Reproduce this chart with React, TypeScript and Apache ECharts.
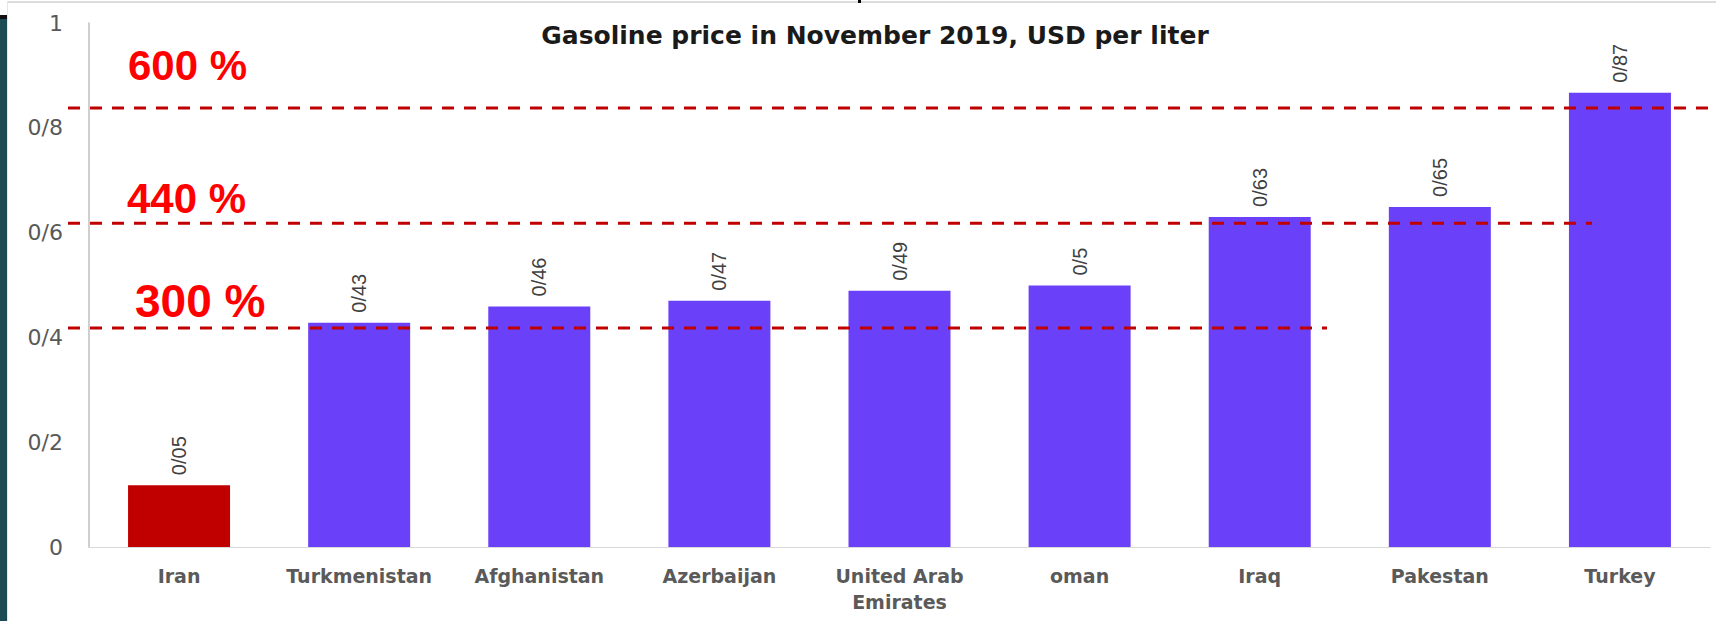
import React, { useEffect, useRef } from "react";
import * as echarts from "echarts";

const categories = [
  "Iran",
  "Turkmenistan",
  "Afghanistan",
  "Azerbaijan",
  "United Arab\nEmirates",
  "oman",
  "Iraq",
  "Pakestan",
  "Turkey",
];
// bar heights as drawn in the picture
const barHeights = [0.118, 0.428, 0.459, 0.47, 0.489, 0.499, 0.63, 0.649, 0.867];
// value labels as printed above the bars
const valueLabels = ["0/05", "0/43", "0/46", "0/47", "0/49", "0/5", "0/63", "0/65", "0/87"];
const yTickLabels = ["0", "0/2", "0/4", "0/6", "0/8", "1"];
const thresholdLevels = [0.838, 0.618, 0.418];
const thresholdLabels = ["600 %", "440 %", "300 %"];

const highlightColor = "#c00000";
const barColor = "#6a40f8";

// layout of annotation lines (pixels)
const thresholdLayout = [
  { x1: 68, x2: 1716, labelX: 128, labelDy: -42, fontSize: 42 },
  { x1: 68, x2: 1592, labelX: 127, labelDy: -25, fontSize: 42 },
  { x1: 68, x2: 1327, labelX: 135, labelDy: -27, fontSize: 46 },
];

export default function App() {
  const ref = useRef<HTMLDivElement>(null);
  useEffect(() => {
    if (!ref.current) return;
    const chart = echarts.init(ref.current, null, { renderer: "svg" });
    const frame: any[] = [
      { type: "rect", shape: { x: 7, y: 1, width: 1709, height: 2 }, style: { fill: "#dcdcdc" }, silent: true },
      { type: "rect", shape: { x: 7, y: 1, width: 1, height: 620 }, style: { fill: "#e6e6e6" }, silent: true },
      { type: "rect", shape: { x: 0, y: 19, width: 7, height: 602 }, style: { fill: "#1d4b53" }, silent: true },
      { type: "rect", shape: { x: 0, y: 15, width: 7, height: 4 }, style: { fill: "#111111" }, silent: true },
      { type: "rect", shape: { x: 858, y: 0, width: 3, height: 3 }, style: { fill: "#000000" }, silent: true },
    ];
    const option: any = {
      animation: false,
      backgroundColor: "#ffffff",
      title: {
        text: "Gasoline price in November 2019, USD per liter",
        left: 870,
        textAlign: "center",
        top: 18,
        textStyle: {
          fontFamily: "DejaVu Sans",
          fontWeight: "bold",
          fontSize: 25,
          color: "#1a1a1a",
        },
      },
      grid: { left: 89, right: 6, top: 23, bottom: 74, containLabel: false },
      xAxis: {
        type: "category",
        data: categories,
        axisLine: { show: true, lineStyle: { color: "#d9d9d9", width: 1 } },
        axisTick: { show: false },
        axisLabel: {
          interval: 0,
          margin: 16,
          fontFamily: "DejaVu Sans",
          fontWeight: "bold",
          fontSize: 19,
          lineHeight: 26,
          color: "#5a5a5a",
        },
      },
      yAxis: {
        type: "value",
        min: 0,
        max: 1,
        interval: 0.2,
        splitLine: { show: false },
        axisTick: { show: false },
        axisLine: { show: true, lineStyle: { color: "#bfbfbf", width: 1.5 } },
        axisLabel: {
          margin: 26,
          fontFamily: "DejaVu Sans",
          fontSize: 22,
          color: "#595959",
          formatter: (v: number) => yTickLabels[Math.round(v / 0.2)] ?? "",
        },
      },
      series: [
        {
          type: "bar",
          barWidth: 102,
          data: barHeights.map((v, i) => ({
            value: v,
            itemStyle: { color: i === 0 ? highlightColor : barColor },
          })),
          label: {
            show: true,
            position: "top",
            rotate: 90,
            align: "left",
            verticalAlign: "middle",
            distance: 10,
            fontFamily: "Liberation Sans",
            fontSize: 20,
            color: "#404040",
            formatter: (p: any) => valueLabels[p.dataIndex],
          },
        },
      ],
      graphic: frame,
    };
    chart.setOption(option);

    const extra: any[] = [];
    thresholdLevels.forEach((lvl, i) => {
      const y = chart.convertToPixel({ yAxisIndex: 0 } as any, lvl) as number;
      const L = thresholdLayout[i];
      extra.push({
        type: "line",
        z: 100,
        silent: true,
        shape: { x1: L.x1, y1: y, x2: L.x2, y2: y },
        style: { stroke: highlightColor, lineWidth: 3, lineDash: [12, 10] },
      });
      extra.push({
        type: "text",
        z: 100,
        silent: true,
        x: L.labelX,
        y: y + L.labelDy,
        style: {
          text: thresholdLabels[i],
          fill: "#ff0000",
          fontFamily: "Liberation Sans",
          fontWeight: "bold",
          fontSize: L.fontSize,
          verticalAlign: "middle",
          align: "left",
        },
      });
    });
    chart.setOption({ graphic: [...frame, ...extra] });

    return () => chart.dispose();
  }, []);
  return (
    <div
      ref={ref}
      style={{ position: "fixed", left: 0, top: 0, width: 1716, height: 621 }}
    />
  );
}
